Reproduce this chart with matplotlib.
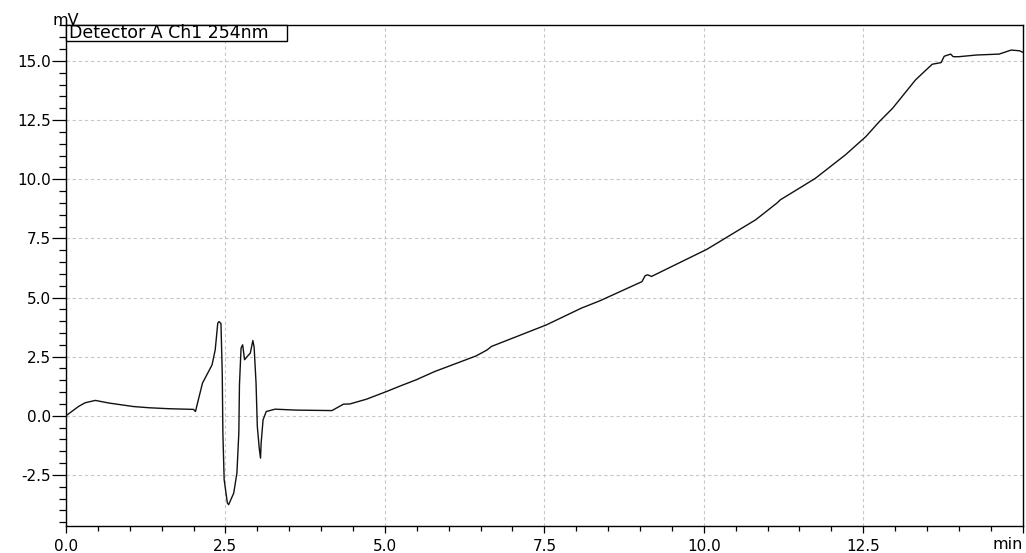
import matplotlib
matplotlib.use("Agg")
import matplotlib.pyplot as plt
from matplotlib.patches import Rectangle
from matplotlib.ticker import MultipleLocator

# Chromatogram trace: retention time (min) and detector signal (mV)
time_min = [
    0.0, 0.0, 0.10, 0.20, 0.30, 0.46, 0.67, 1.06, 1.30, 1.60, 2.00, 2.03,
    2.14, 2.29, 2.34, 2.38, 2.40, 2.43, 2.45, 2.46, 2.48, 2.53, 2.55, 2.63,
    2.68, 2.71, 2.72, 2.745, 2.77, 2.80, 2.84, 2.89, 2.93, 2.95, 2.98, 3.00,
    3.03, 3.05, 3.06, 3.09, 3.14, 3.28, 3.60, 4.17, 4.35, 4.45, 4.71, 5.03,
    5.25, 5.49, 5.78, 6.43, 6.60, 6.67, 7.53, 8.08, 8.37, 9.03, 9.08, 9.12,
    9.18, 10.05, 10.81, 10.91, 11.15, 11.20, 11.54, 11.75, 12.22, 12.54,
    12.75, 12.96, 13.32, 13.58, 13.72, 13.77, 13.87, 13.91, 14.00, 14.27,
    14.63, 14.82, 14.95, 15.00,
]
signal_mv = [
    -2.07, 0.0, 0.20, 0.40, 0.55, 0.65, 0.54, 0.39, 0.34, 0.30, 0.27, 0.18,
    1.38, 2.15, 2.79, 3.92, 3.98, 3.90, 1.80, -0.73, -2.70, -3.68, -3.76, -3.27,
    -2.42, -0.73, 1.31, 2.86, 3.00, 2.37, 2.50, 2.65, 3.18, 2.90, 1.38, -0.45,
    -1.37, -1.79, -1.15, -0.17, 0.18, 0.28, 0.24, 0.22, 0.49, 0.50, 0.70, 1.03,
    1.27, 1.52, 1.87, 2.53, 2.78, 2.93, 3.84, 4.55, 4.86, 5.67, 5.92, 5.96,
    5.89, 7.04, 8.28, 8.49, 9.00, 9.13, 9.69, 10.04, 11.03, 11.80,
    12.43, 13.00, 14.20, 14.86, 14.93, 15.20, 15.29, 15.18, 15.18, 15.25,
    15.29, 15.46, 15.43, 15.37,
]

x_ticks = [0.0, 2.5, 5.0, 7.5, 10.0, 12.5]
x_tick_labels = ["0.0", "2.5", "5.0", "7.5", "10.0", "12.5"]
y_ticks = [-2.5, 0.0, 2.5, 5.0, 7.5, 10.0, 12.5, 15.0]
y_tick_labels = ["-2.5", "0.0", "2.5", "5.0", "7.5", "10.0", "12.5", "15.0"]
channel_label = "Detector A Ch1 254nm"

plt.rcParams["font.family"] = ["DejaVu Sans"]

fig = plt.figure(figsize=(10.26, 5.53), dpi=100)
ax = fig.add_axes([0.0643, 0.0488, 0.9325, 0.906])

ax.plot(time_min, signal_mv, color="#111111", linewidth=1.0, zorder=3)

ax.set_xlim(0, 15)
ax.set_ylim(-4.66, 16.52)

ax.set_xticks(x_ticks + [15.0])
ax.set_xticklabels(x_tick_labels + [""])
ax.set_yticks(y_ticks)
ax.set_yticklabels(y_tick_labels)
ax.xaxis.set_minor_locator(MultipleLocator(0.5))
ax.yaxis.set_minor_locator(MultipleLocator(0.5))

ax.tick_params(axis="y", which="major", length=10, width=0.9, pad=1,
               labelsize=11, colors="black")
ax.tick_params(axis="y", which="minor", length=5, width=0.9)
ax.tick_params(axis="x", which="major", length=5, width=0.9, pad=4,
               labelsize=11, colors="black")
ax.tick_params(axis="x", which="minor", length=3.5, width=0.9)

ax.grid(True, which="major", color="#c8c8c8", linestyle=(0, (3, 2.5)),
        linewidth=0.8, zorder=1)

for side in ("left", "bottom", "right", "top"):
    ax.spines[side].set_color("black")
    ax.spines[side].set_linewidth(1.0)

# Unit labels
ax.text(0.0, 0.995, "mV", transform=ax.transAxes, ha="center", va="bottom",
        fontsize=11.5, color="black")
ax.text(15.0, -0.022, "min", transform=ax.get_xaxis_transform(), ha="right",
        va="top", fontsize=11.5, color="black")

# Channel label box at the top-left corner
box_w = 0.231
box_h = 0.032
ax.add_patch(Rectangle((0.0, 1.0 - box_h), box_w, box_h, transform=ax.transAxes,
                       facecolor="white", edgecolor="black", linewidth=1.0,
                       zorder=5, clip_on=False))
ax.text(0.003, 1.0 - box_h / 2, channel_label, transform=ax.transAxes,
        ha="left", va="center", fontsize=12.5, color="black", zorder=6)

fig.savefig("out.png", dpi=100)
